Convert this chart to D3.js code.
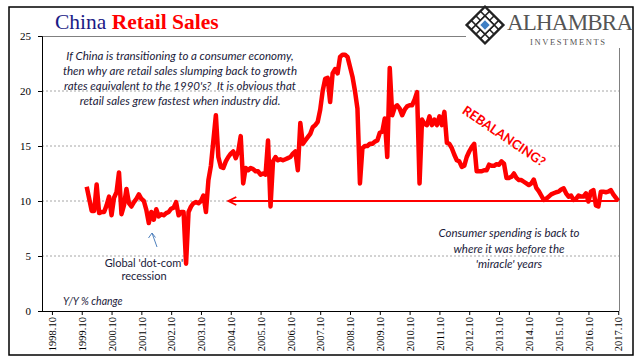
<!DOCTYPE html>
<html><head><meta charset="utf-8">
<script src="https://cdn.jsdelivr.net/npm/d3@7"></script>
<style>
body{margin:0;background:#fff;}
svg{display:block;}
</style></head>
<body>
<svg id="chart" width="641" height="361"></svg>
<script>
// ---- DATA ----
const startMonth = "1999.12";
const values = [
11.3,10.2,9.1,9.1,11.5,8.9,9.0,9.0,9.6,10.4,8.7,10.3,10.8,12.6,8.8,9.6,11.1,9.8,9.5,9.9,
10.2,10.6,10.2,10.0,9.2,8.0,9.0,8.3,9.25,8.6,8.8,8.7,8.9,9.0,9.3,9.4,9.9,8.7,9.0,9.0,
4.3,9.0,9.5,9.8,9.9,9.8,10.0,10.5,9.0,11.9,13.2,15.5,17.8,14.0,13.1,13.0,13.6,14.0,14.3,14.5,
13.9,14.5,15.9,11.6,13.0,12.8,13.0,12.9,12.7,12.7,12.4,12.5,12.4,15.5,9.5,13.6,14.0,13.7,13.8,13.7,
13.8,13.9,14.0,14.3,14.5,12.8,17.1,15.2,15.5,15.8,16.1,16.7,16.9,17.2,18.3,20.0,21.1,21.2,19.0,21.6,
22.0,21.6,23.1,23.3,23.3,23.1,22.2,21.3,20.0,18.4,11.6,14.8,15.0,15.0,15.2,15.2,15.4,15.5,16.2,16.3,
17.5,14.0,22.1,17.8,18.5,18.7,18.4,17.8,18.3,18.6,18.7,18.7,19.2,19.9,11.6,17.4,17.0,16.9,17.7,16.9,
17.4,16.9,17.7,16.9,18.1,15.3,15.2,14.8,14.2,13.7,13.6,13.1,13.2,14.0,14.5,14.9,15.2,12.7,12.7,12.7,
12.8,12.8,13.3,13.2,13.2,13.35,13.3,13.6,13.4,12.1,12.1,12.2,12.5,12.1,11.9,11.9,11.75,11.6,11.45,11.6,
11.95,11.2,10.9,10.5,10.1,10.2,10.4,10.6,10.7,10.8,10.85,11.05,11.15,10.7,10.4,10.5,10.1,10.2,10.5,10.4,
10.4,10.7,9.95,10.85,11.0,9.6,9.5,10.85,10.85,10.8,10.85,11.0,10.6,10.3,10.0
];
const xTickLabels = ["1998.10","1999.10","2000.10","2001.10","2002.10","2003.10","2004.10","2005.10",
"2006.10","2007.10","2008.10","2009.10","2010.10","2011.10","2012.10","2013.10","2014.10","2015.10",
"2016.10","2017.10"];
const yTicks = [0,5,10,15,20,25];
const referenceLevel = 10;
const arrowFrom = "2017.10", arrowTo = "2004.09";

// ---- HELPERS ----
const mIdx = s => { const [y,m] = s.split(".").map(Number); return y*12 + (m-1); };
const start = mIdx(startMonth);
const series = values.map((v,i)=>({t:start+i, v}));

const svg = d3.select("#chart");
const L=42, R=619, T=36, B=311;
const x = d3.scaleLinear().domain([mIdx("1998.06"), mIdx("2017.10")+0.3]).range([L,R]);
const y = d3.scaleLinear().domain([0,25]).range([B,T]);

// outer frame
svg.append("rect").attr("x",9).attr("y",7).attr("width",624).attr("height",348)
  .attr("fill","#fff").attr("stroke","#000").attr("stroke-width",1.5);

// gridlines
svg.append("g").selectAll("line").data(yTicks.filter(d=>d>0&&d<25)).join("line")
  .attr("x1",L).attr("x2",R).attr("y1",d=>y(d)).attr("y2",d=>y(d))
  .attr("stroke","#a6a6a6").attr("stroke-width",1).attr("stroke-dasharray","2,2");

// plot frame (top + right, gray)
svg.append("line").attr("x1",L).attr("x2",466).attr("y1",T+0.5).attr("y2",T+0.5).attr("stroke","#808080");
svg.append("line").attr("x1",R+0.5).attr("x2",R+0.5).attr("y1",48).attr("y2",B).attr("stroke","#808080");

// y axis
const yAxis = d3.axisLeft(y).tickValues(yTicks).tickSize(4).tickFormat(d3.format("d"));
const gy = svg.append("g").attr("transform",`translate(${L},0)`).call(yAxis);
gy.select(".domain").attr("stroke","#000");
gy.selectAll(".tick line").attr("stroke","#000");
gy.selectAll("text").attr("font-family","Liberation Serif").attr("font-size",11).attr("fill","#000").attr("dx",-4);

// x axis
const tickVals = xTickLabels.map(mIdx);
const xAxis = d3.axisBottom(x).tickValues(tickVals).tickSize(4).tickFormat((d,i)=>xTickLabels[i]);
const gx = svg.append("g").attr("transform",`translate(0,${B})`).call(xAxis);
gx.select(".domain").attr("stroke","#000").attr("d",`M${L},0.5H${R}`);
gx.selectAll(".tick line").attr("stroke","#000");
gx.selectAll("text").attr("font-family","Liberation Serif").attr("font-size",10.5).attr("fill","#000")
  .attr("transform","rotate(-90)").attr("text-anchor","end").attr("x",-6).attr("y",0).attr("dy","0.35em");

// reference arrow at 10
const ax1 = x(mIdx(arrowFrom)), ax2 = x(mIdx(arrowTo)), ay = y(referenceLevel);
svg.append("line").attr("x1",ax1).attr("x2",ax2+1).attr("y1",ay).attr("y2",ay)
  .attr("stroke","#ff0000").attr("stroke-width",1.8);
svg.append("path").attr("d",`M${ax2+8},${ay-4} L${ax2},${ay} L${ax2+8},${ay+4}`)
  .attr("fill","none").attr("stroke","#ff0000").attr("stroke-width",1.8).attr("stroke-linejoin","miter");

// data line
svg.append("path").datum(series)
  .attr("fill","none").attr("stroke","#ff0000").attr("stroke-width",4.5).attr("stroke-linejoin","round")
  .attr("d",d3.line().x(d=>x(d.t)).y(d=>y(d.v)));

// title
const title = svg.append("text").attr("x",55).attr("y",29).attr("font-family","Liberation Serif").attr("font-size",21.5);
title.append("tspan").attr("fill","#1b1b86").text("China ");
title.append("tspan").attr("fill","#ff0000").attr("font-weight","bold").text("Retail Sales");

// logo
const logo = svg.append("g").attr("transform","translate(485,25)");
logo.append("rect").attr("x",-13).attr("y",-13).attr("width",26).attr("height",26).attr("transform","rotate(45)")
  .attr("fill","#fff").attr("stroke","#222").attr("stroke-width",2.4);
[-6.5,0,6.5].forEach(a=>{
  logo.append("line").attr("x1",a).attr("x2",a).attr("y1",-13).attr("y2",13).attr("transform","rotate(45)").attr("stroke","#222").attr("stroke-width",1.6);
  logo.append("line").attr("y1",a).attr("y2",a).attr("x1",-13).attr("x2",13).attr("transform","rotate(45)").attr("stroke","#222").attr("stroke-width",1.6);
});
logo.append("rect").attr("x",-6.5).attr("y",-6.5).attr("width",13).attr("height",13).attr("transform","rotate(45)")
  .attr("fill","#fff").attr("stroke","#222").attr("stroke-width",1.6);
logo.append("rect").attr("x",-3.3).attr("y",-3.3).attr("width",6.6).attr("height",6.6).attr("transform","rotate(45)")
  .attr("fill","#3f7fc4");
svg.append("text").attr("x",507).attr("y",30).attr("font-family","Liberation Serif").attr("font-size",23)
  .attr("fill","#555").attr("textLength",126).text("ALHAMBRA");
svg.append("text").attr("x",530).attr("y",45).attr("font-family","Liberation Serif").attr("font-size",8.5)
  .attr("fill","#555").attr("textLength",75).text("INVESTMENTS");

// annotations
const noteFont = "Lato";
const topNote = ["If China is transitioning to a consumer economy,",
 "then why are retail sales slumping back to growth",
 "rates equivalent to the 1990's?  It is obvious that",
 "retail sales grew fastest when industry did."];
svg.append("g").selectAll("text").data(topNote).join("text")
  .attr("x",180).attr("y",(d,i)=>60+i*15).attr("text-anchor","middle")
  .attr("font-family",noteFont).attr("font-style","italic").attr("font-size",11.5).attr("fill","#1a1a3a")
  .style("white-space","pre").text(d=>d);

const bottomNote = ["Consumer spending is back to","where it was before the","'miracle' years"];
svg.append("g").selectAll("text").data(bottomNote).join("text")
  .attr("x",509).attr("y",(d,i)=>237+i*15.5).attr("text-anchor","middle")
  .attr("font-family",noteFont).attr("font-style","italic").attr("font-size",11.5).attr("fill","#1a1a3a").text(d=>d);

svg.append("g").selectAll("text").data(["Global 'dot-com'","recession"]).join("text")
  .attr("x",144).attr("y",(d,i)=>267+i*13).attr("text-anchor","middle")
  .attr("font-family",noteFont).attr("font-size",11).attr("fill","#1a1a3a").text(d=>d);

svg.append("text").attr("x",63).attr("y",305).attr("font-family",noteFont).attr("font-style","italic")
  .attr("font-size",10.5).attr("fill","#1a1a3a").text("Y/Y % change");

svg.append("text").attr("transform","translate(504,136) rotate(34)").attr("text-anchor","middle")
  .attr("font-family",noteFont).attr("font-weight","bold").attr("font-size",13).attr("fill","#ff0000")
  .attr("dy","0.35em").text("REBALANCING?");

// blue arrow
svg.append("line").attr("x1",157).attr("y1",247).attr("x2",152).attr("y2",233)
  .attr("stroke","#4f81bd").attr("stroke-width",1);
svg.append("path").attr("d","M148.5,238 L152,233 L155.5,237.5").attr("fill","none").attr("stroke","#4f81bd").attr("stroke-width",1);
</script>
</body></html>
